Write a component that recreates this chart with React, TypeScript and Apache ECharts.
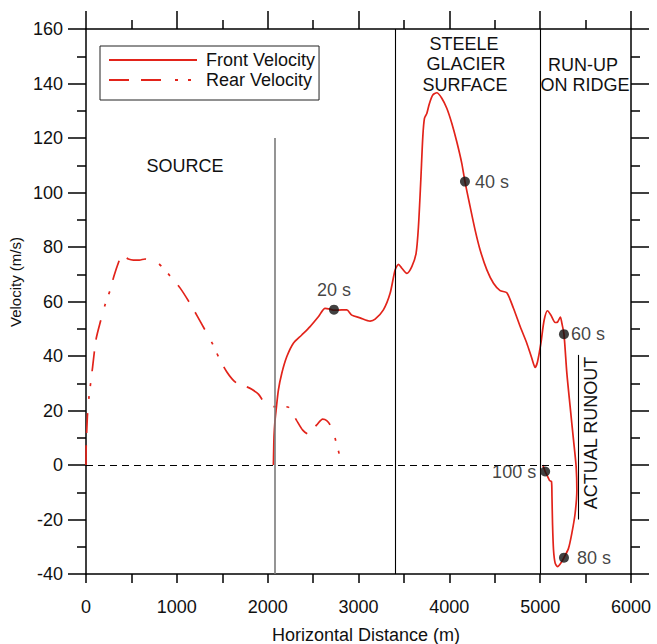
import React, { useEffect, useRef } from 'react';
import * as echarts from 'echarts';

// Horizontal distance (m), velocity (m/s)
const frontVelocity: [number, number][] = [
  [2063, 0], [2066, 5], [2070, 10.4], [2080, 16], [2093, 20.2], [2118, 27.5], [2155, 33.6],
  [2210, 39.7], [2283, 44.7], [2375, 47.7], [2467, 50.8], [2558, 54.4], [2632, 57.5],
  [2687, 57.2], [2730, 56.8], [2816, 56.9], [2871, 56.9], [2926, 55], [3018, 54], [3128, 52.8],
  [3183, 53.5], [3274, 56.9], [3348, 63], [3403, 71.6], [3440, 73.6], [3477, 72.2], [3532, 70.3],
  [3587, 72.8], [3634, 77.7], [3660, 87.5], [3686, 104.6], [3708, 120.5], [3726, 127.2],
  [3752, 129], [3781, 132.7], [3818, 135.8], [3862, 136.6], [3917, 134.6], [3972, 130.9],
  [4027, 125.4], [4082, 118.6], [4137, 110.7], [4172, 104], [4229, 94.8], [4284, 86.2],
  [4339, 78.9], [4413, 71.6], [4486, 66.7], [4559, 64], [4633, 63.2], [4706, 57.5], [4780, 50.8],
  [4853, 44.7], [4908, 39.2], [4945, 35.8], [4971, 37.9], [5008, 44.7], [5044, 53.2],
  [5081, 56.6], [5118, 55], [5165, 52.3], [5190, 52.4], [5222, 54.3], [5239, 52], [5262, 48],
  [5294, 33.6], [5330, 21.4], [5367, 9.2], [5396, -0.6], [5404, -9.2], [5385, -17.7],
  [5349, -25], [5312, -30.6], [5262, -34], [5228, -36], [5191, -37.3], [5165, -36],
  [5147, -31.2], [5136, -21.4], [5130, -11.6], [5125, -6.1], [5103, -5.7], [5092, -4.9],
  [5074, -3.7], [5055, -2.4], [5029, 0],
];

const rearVelocity: [number, number][] = [
  [0, 0], [2, 6.7], [15, 17.7], [33, 25], [51, 30], [73, 36], [110, 46], [162, 53], [209, 58.7],
  [264, 64], [308, 69.4], [374, 75.8], [396, 77], [430, 76.4], [466, 75.6], [521, 75.2],
  [587, 75.2], [650, 75.6], [720, 75], [796, 74], [925, 69.4], [1035, 65], [1145, 59.3],
  [1219, 55], [1311, 49.5], [1391, 44.6], [1469, 39], [1549, 34.2], [1610, 31.5], [1659, 30],
  [1696, 29.4], [1760, 28.8], [1825, 27.8], [1898, 26], [1964, 22.9], [2020, 21.6],
  [2093, 21.4], [2160, 21.5], [2228, 21.2], [2247, 20.4], [2320, 16.3], [2386, 12.8],
  [2449, 11.3], [2500, 13], [2540, 14.7], [2606, 16.8], [2650, 16.3], [2687, 14.7],
  [2742, 9.8], [2790, 3.7],
];

const timeMarks: [number, number][] = [[2730, 57], [4172, 104], [5262, 48], [5262, -34], [5055, -2.4]];
const timeLabels = ['20 s', '40 s', '60 s', '80 s', '100 s'];
const timeLabelSides = ['top', 'right', 'right', 'right', 'left'];
const timeLabelGaps = [6, 5, 2, 8, 4];

const sourceBoundaryX = 2078;
const sourceBoundaryTop = 120;
const glacierBoundaryX = 3410;
const ridgeBoundaryX = 5000;
const runoutX = 5420;
const runoutRange: [number, number] = [40.4, -20];

const X_MIN = 0, X_MAX = 6000, X_STEP = 1000;
const Y_MIN = -40, Y_MAX = 160, Y_STEP = 20;

const RED = '#e2231a';
const FONT = '"Liberation Sans", Arial, Helvetica, sans-serif';

export default function App() {
  const ref = useRef<HTMLDivElement>(null);

  useEffect(() => {
    document.body.style.margin = '0';
    if (!ref.current) return;
    const chart = echarts.init(ref.current, undefined, { renderer: 'svg' });

    const axisLine = { onZero: false, lineStyle: { color: '#000', width: 1.5 } };
    const tickStyle = { color: '#000', width: 1.5 };
    const labelStyle = { color: '#111', fontSize: 18, fontFamily: FONT, formatter: (v: number) => String(v) };

    const xCommon = { type: 'value', min: X_MIN, max: X_MAX, interval: X_STEP, splitLine: { show: false } };
    const yCommon = { type: 'value', min: Y_MIN, max: Y_MAX, interval: Y_STEP, splitLine: { show: false } };

    const option: any = {
      animation: false,
      backgroundColor: '#fff',
      grid: { left: 86, right: 26, top: 29, bottom: 70 },
      legend: {
        orient: 'vertical',
        left: 100,
        top: 46,
        padding: [5, 4, 11, 8],
        itemGap: 2,
        itemWidth: 88,
        itemHeight: 16,
        borderColor: '#222',
        borderWidth: 1,
        backgroundColor: '#fff',
        itemStyle: { opacity: 0, color: 'transparent', borderWidth: 0 },
        textStyle: { color: '#111', fontSize: 18, fontFamily: FONT, padding: [0, 0, 0, 4] },
        data: ['Front Velocity', 'Rear Velocity'],
      },
      xAxis: [
        {
          ...xCommon,
          position: 'bottom',
          axisLine,
          axisTick: { inside: false, length: 9, lineStyle: tickStyle },
          minorTick: { show: true, splitNumber: 2, length: 9, lineStyle: tickStyle },
          axisLabel: { ...labelStyle, margin: 24 },
        },
        {
          ...xCommon,
          position: 'top',
          axisLine,
          axisTick: { inside: false, length: 18, lineStyle: tickStyle },
          minorTick: { show: true, splitNumber: 2, length: 9, lineStyle: tickStyle },
          axisLabel: { show: false },
        },
      ],
      yAxis: [
        {
          ...yCommon,
          position: 'left',
          axisLine,
          axisTick: { inside: false, length: 18, lineStyle: tickStyle },
          minorTick: { show: true, splitNumber: 2, length: 9, lineStyle: tickStyle },
          axisLabel: { ...labelStyle, margin: 23 },
        },
        {
          ...yCommon,
          position: 'right',
          axisLine,
          axisTick: { inside: false, length: 18, lineStyle: tickStyle },
          minorTick: { show: true, splitNumber: 2, length: 9, lineStyle: tickStyle },
          axisLabel: { show: false },
        },
      ],
      series: [
        {
          name: 'Region boundaries',
          type: 'line',
          data: [],
          silent: true,
          markLine: {
            silent: true,
            symbol: ['none', 'none'],
            label: { show: false },
            animation: false,
            data: [
              [
                { coord: [sourceBoundaryX, Y_MIN], lineStyle: { color: '#7a7a7a', width: 1.6, type: 'solid' } },
                { coord: [sourceBoundaryX, sourceBoundaryTop] },
              ],
              [
                { coord: [glacierBoundaryX, Y_MIN], lineStyle: { color: '#000', width: 1.1, type: 'solid' } },
                { coord: [glacierBoundaryX, Y_MAX] },
              ],
              [
                { coord: [ridgeBoundaryX, Y_MIN], lineStyle: { color: '#000', width: 1.1, type: 'solid' } },
                { coord: [ridgeBoundaryX, Y_MAX] },
              ],
              [
                { coord: [X_MIN, 0], lineStyle: { color: '#000', width: 1.1, type: [7, 5] } },
                { coord: [runoutX, 0] },
              ],
              [
                { coord: [runoutX, runoutRange[0]], lineStyle: { color: '#000', width: 1.1, type: 'solid' } },
                { coord: [runoutX, runoutRange[1]] },
              ],
            ],
          },
        },
        {
          name: 'Front Velocity',
          type: 'line',
          data: frontVelocity,
          showSymbol: false,
          symbol: 'none',
          smooth: 0.25,
          color: RED,
          lineStyle: { color: RED, width: 1.7, type: 'solid' },
          z: 3,
        },
        {
          name: 'Rear Velocity',
          type: 'line',
          data: rearVelocity,
          showSymbol: false,
          symbol: 'none',
          smooth: 0.25,
          color: RED,
          lineStyle: { color: RED, width: 1.7, type: [20, 12, 20, 14, 3, 10, 3, 12] },
          z: 3,
        },
        {
          name: 'Time marks',
          type: 'scatter',
          data: timeMarks.map((p, i) => ({
            value: p,
            label: {
              show: true,
              formatter: timeLabels[i],
              position: timeLabelSides[i],
              distance: timeLabelGaps[i],
              color: '#111',
              fontSize: 18,
              fontFamily: FONT,
            },
          })),
          symbol: 'circle',
          symbolSize: 10,
          itemStyle: { color: '#111' },
          z: 5,
        },
      ],
      graphic: [
        { type: 'text', x: 185, y: 166, style: { text: 'SOURCE', font: `18px ${FONT}`, fill: '#111', align: 'center', verticalAlign: 'middle' } },
        { type: 'text', x: 464, y: 44, style: { text: 'STEELE', font: `18px ${FONT}`, fill: '#111', align: 'center', verticalAlign: 'middle' } },
        { type: 'text', x: 466, y: 63.5, style: { text: 'GLACIER', font: `18px ${FONT}`, fill: '#111', align: 'center', verticalAlign: 'middle' } },
        { type: 'text', x: 465, y: 85, style: { text: 'SURFACE', font: `18px ${FONT}`, fill: '#111', align: 'center', verticalAlign: 'middle' } },
        { type: 'text', x: 583, y: 65, style: { text: 'RUN-UP', font: `18px ${FONT}`, fill: '#111', align: 'center', verticalAlign: 'middle' } },
        { type: 'text', x: 585, y: 85, style: { text: 'ON RIDGE', font: `18px ${FONT}`, fill: '#111', align: 'center', verticalAlign: 'middle' } },
        { type: 'text', x: 591, y: 433, rotation: Math.PI / 2, style: { text: 'ACTUAL RUNOUT', font: `18px ${FONT}`, fill: '#111', align: 'center', verticalAlign: 'middle' } },
        { type: 'text', x: 366, y: 635, style: { text: 'Horizontal Distance (m)', font: `18px ${FONT}`, fill: '#111', align: 'center', verticalAlign: 'middle' } },
        { type: 'text', x: 15, y: 282, rotation: Math.PI / 2, style: { text: 'Velocity (m/s)', font: `15px ${FONT}`, fill: '#111', align: 'center', verticalAlign: 'middle' } },
      ],
    };

    chart.setOption(option);
    return () => chart.dispose();
  }, []);

  return <div ref={ref} style={{ width: 657, height: 644 }} />;
}
